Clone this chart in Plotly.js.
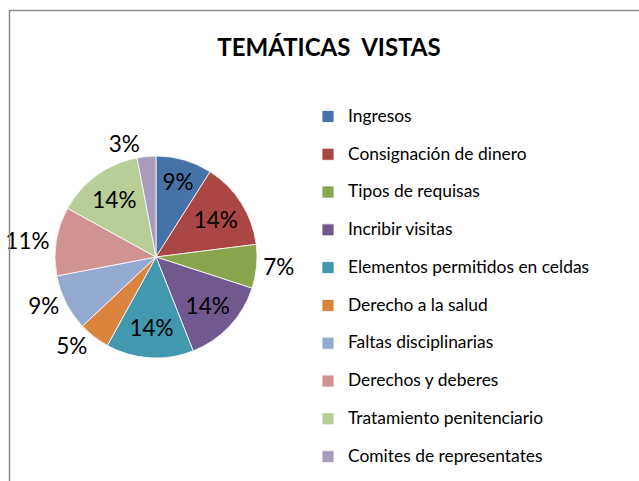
<!DOCTYPE html>
<html>
<head>
<meta charset="utf-8">
<script src="https://cdn.plot.ly/plotly-3.0.1.min.js"></script>
<style>html,body{margin:0;padding:0;background:#fff;}#chart{width:639px;height:481px;}</style>
</head>
<body>
<div id="chart"></div>
<script>
const categories = [
  'Ingresos',
  'Consignación de dinero',
  'Tipos de requisas',
  'Incribir visitas',
  'Elementos permitidos en celdas',
  'Derecho a la salud',
  'Faltas disciplinarias',
  'Derechos y deberes',
  'Tratamiento penitenciario',
  'Comites de representates'
];
const values = [9, 14, 7, 14, 14, 5, 9, 11, 14, 3];
const colors = ['#4572A7', '#AA4643', '#89A54E', '#71588F', '#4198AF',
                '#DB843D', '#93A9CF', '#D19392', '#B9CD96', '#A99BBD'];
const labelPlacement = ['inside', 'inside', 'outside', 'inside', 'inside',
                        'outside', 'outside', 'outside', 'inside', 'outside'];

const W = 639, H = 481;
const FONT = 'Lato, "Open Sans", sans-serif';

const trace = {
  type: 'pie',
  labels: categories.map(c => '<span style="font-size:17.4px">' + c + '</span><br>'),
  values: values,
  sort: false,
  direction: 'clockwise',
  rotation: 0,
  marker: {colors: colors, line: {color: '#ffffff', width: 0.8}},
  texttemplate: '%{percent:.0%}',
  textposition: labelPlacement,
  insidetextorientation: 'horizontal',
  textfont: {family: FONT, size: 22.5, color: '#000'},
  insidetextfont: {family: FONT, size: 22.5, color: '#000'},
  outsidetextfont: {family: FONT, size: 22.5, color: '#000'},
  hoverinfo: 'skip',
  domain: {x: [55 / W, 257 / W], y: [1 - 358 / H, 1 - 156 / H]}
};

const layout = {
  width: W, height: H,
  margin: {l: 0, r: 0, t: 0, b: 0, autoexpand: false},
  paper_bgcolor: '#fff',
  font: {family: FONT, color: '#000'},
  title: {
    text: '<b>TEMÁTICAS  VISTAS</b>',
    font: {family: FONT, size: 24, color: '#000'},
    x: 329 / W, xanchor: 'center', xref: 'paper',
    y: 1 - 48 / H, yanchor: 'middle', yref: 'paper'
  },
  showlegend: true,
  legend: {
    x: 308 / W, xanchor: 'left',
    y: 1 - 101.3 / H, yanchor: 'top',
    font: {family: FONT, size: 13.38, color: '#000'},
    valign: 'top',
    bgcolor: 'rgba(0,0,0,0)',
    borderwidth: 0
  },
  shapes: [{
    type: 'rect', xref: 'paper', yref: 'paper',
    x0: 9.5 / W, x1: 1.05, y0: -0.05, y1: 1 - 10.5 / H,
    line: {color: '#8a8a8a', width: 1.5},
    fillcolor: 'rgba(0,0,0,0)'
  }]
};

Plotly.newPlot('chart', [trace], layout, {displayModeBar: false, staticPlot: true});
</script>
</body>
</html>
